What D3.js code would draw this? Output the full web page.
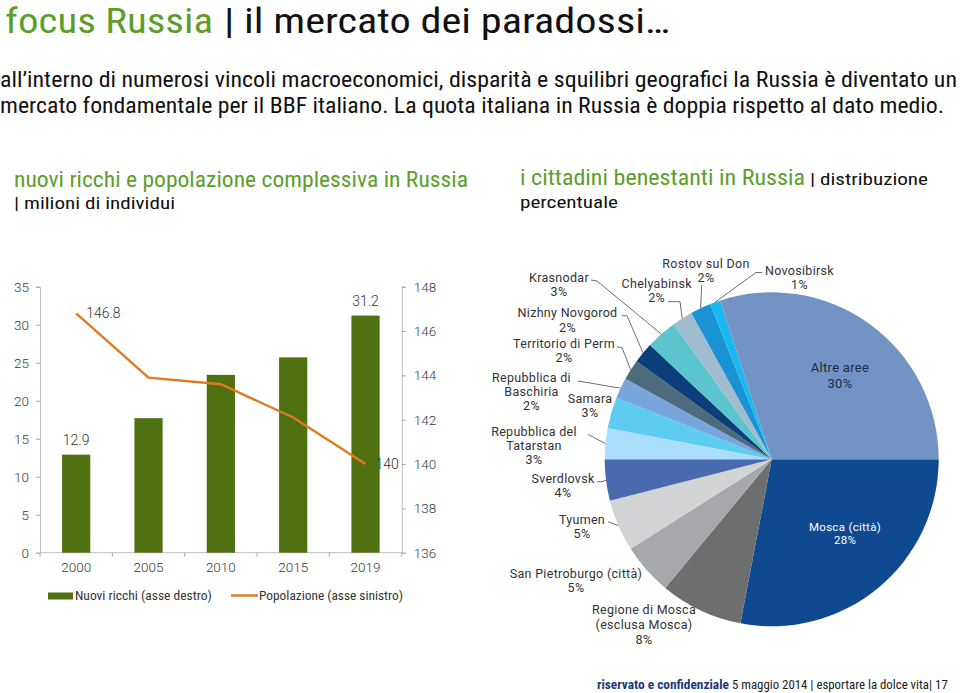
<!DOCTYPE html>
<html>
<head>
<meta charset="utf-8">
<script src="https://cdn.jsdelivr.net/npm/d3@7/dist/d3.min.js"></script>
<style>
  html, body { margin: 0; padding: 0; background: #fff; }
  svg { display: block; }
  .din { font-family: "Roboto", "DejaVu Sans", sans-serif; }
</style>
</head>
<body>
<svg id="chart" width="960" height="693"></svg>
<script>
// ---------------- DATA ----------------
const years = ["2000", "2005", "2010", "2015", "2019"];
const nuoviRicchi = [12.9, 17.7, 23.4, 25.7, 31.2];      // bars, left axis (milioni)
const popolazione = [146.8, 143.9, 143.6, 142.1, 140.0]; // line, right axis (milioni)
const leftTicks = [0, 5, 10, 15, 20, 25, 30, 35];
const rightTicks = [136, 138, 140, 142, 144, 146, 148];
const barLabels = ["12.9", "", "", "", "31.2"];
const lineLabels = ["146.8", "", "", "", "140"];

const regions = [
  "Mosca (città)", "Regione di Mosca\n(esclusa Mosca)", "San Pietroburgo (città)", "Tyumen",
  "Sverdlovsk", "Repubblica del\nTatarstan", "Samara", "Repubblica di\nBaschiria",
  "Territorio di Perm", "Nizhny Novgorod", "Krasnodar", "Chelyabinsk",
  "Rostov sul Don", "Novosibirsk", "Altre aree"
];
const shares = [28, 8, 5, 5, 4, 3, 3, 2, 2, 2, 3, 2, 2, 1, 30];

// ---------------- STYLES / LAYOUT ----------------
const sliceColors = [
  "#0f4990", "#6d6e70", "#a6a8ab", "#d2d3d5",
  "#4a6ab0", "#abdefa", "#5ecbf0", "#78a6dc",
  "#4d6b7c", "#0a3f7a", "#5bc5cf", "#a0bccf",
  "#1a93d4", "#1bb8ef", "#7393c5"
];
const labelLayout = [
  { x: 845, y: 531, lh: 13.2, fill: "#ffffff", size: 11.5 },
  { x: 644, y: 614, lh: 15.2 },
  { x: 576, y: 578, lh: 14 },
  { x: 582, y: 524, lh: 14, lead: [[608, 521.7]] },
  { x: 563, y: 483, lh: 14, lead: [[597, 481.7], [602, 481.7]] },
  { x: 534, y: 436, lh: 14, lead: [[588, 434.3]] },
  { x: 590, y: 403, lh: 14 },
  { x: 531.5, y: 381.5, lh: 14, lead: [[578, 381]] },
  { x: 564, y: 348, lh: 14, lead: [[617, 346.7], [622, 347.7]] },
  { x: 567.5, y: 317, lh: 14.6, lead: [[622, 315.7], [627, 315.7]] },
  { x: 559, y: 282, lh: 14, lead: [[591, 280], [597, 281]] },
  { x: 656.7, y: 288, lh: 14.4, lead: [[668, 301.7], [680, 301.7]] },
  { x: 706, y: 267.5, lh: 14, lead: [[701.7, 285]] },
  { x: 799.5, y: 275, lh: 14, lead: [[762, 272.5], [756, 272.5]] },
  { x: 840, y: 372, lh: 15.6, fill: "#1c2b3f", size: 13 }
];

const svg = d3.select("#chart");

// ---------- pick an installed condensed sans font for the headings ----------
const probe = "mercato fondamentale per il BBF italiano";
function measureText(family, stretch) {
  const t = svg.append("text").style("font-family", family).style("font-stretch", stretch || "normal")
    .style("font-size", "100px").text(probe);
  const w = t.node().getComputedTextLength();
  const bb = t.node().getBBox();
  t.remove();
  return { w, a: -bb.y / 100, d: (bb.height + bb.y) / 100 };
}
const monoW = measureText("monospace").w;
const candidates = [
  ["Roboto Condensed", "normal"],
  ["Roboto", "condensed"],
  ["Liberation Sans Narrow", "normal"],
  ["Open Sans", "condensed"],
  ["Noto Sans", "condensed"],
  ["DejaVu Sans", "condensed"]
];
let chosen = null;
for (const [fam, st] of candidates) {
  const m = measureText(`"${fam}", monospace`, st);
  if (Math.abs(m.w - monoW) < 0.5) continue;            // family not installed
  const normal = measureText(`"${fam}", monospace`, "normal").w;
  if (st !== "normal" && m.w > normal * 0.95) continue; // no condensed face
  chosen = { fam, st, ...m };
  break;
}
if (!chosen) chosen = { fam: "DejaVu Sans", st: "normal", ...measureText('"DejaVu Sans"', "normal") };
const narrowFamily = `"${chosen.fam}", sans-serif`;
const narrowStretch = chosen.st;
const asc = chosen.a, desc = chosen.d;

// text fitted to a width: font size at most maxSize, width forced to target
function fitted(x, y, str, maxSize, target, color, opts = {}) {
  const t = svg.append("text").attr("x", x).attr("y", y)
    .style("font-family", narrowFamily).style("font-stretch", narrowStretch)
    .style("font-size", "100px").style("font-weight", opts.weight || "normal")
    .attr("fill", color).text(str);
  const nat100 = t.node().getComputedTextLength();
  let fs = Math.min(maxSize, 100 * target / nat100);
  if (opts.minSize) fs = Math.max(fs, opts.minSize);
  t.style("font-size", fs + "px");
  const nat = t.node().getComputedTextLength();
  if (Math.abs(nat - target) > 0.8) t.attr("textLength", target).attr("lengthAdjust", "spacingAndGlyphs");
  return fs;
}

// ---------------- HEADER ----------------
const titleMax = Math.min(38, 32 / asc);
fitted(5, 33, "focus Russia", titleMax, 208, "#5c9e2c", { minSize: titleMax });
fitted(224, 33, "| il mercato dei paradossi…", titleMax, 446, "#111", { minSize: titleMax });
const subMax = Math.min(24, 25.5 / (asc + desc));
fitted(0, 87, "all’interno di numerosi vincoli macroeconomici, disparità e squilibri geografici  la Russia è diventato un", subMax, 957, "#111");
fitted(0, 113, "mercato fondamentale per il BBF italiano. La quota italiana in Russia è doppia rispetto al dato medio.", subMax, 944, "#111");

const secMax = 22;
const fsA = fitted(14, 187, "nuovi ricchi e popolazione complessiva in Russia", secMax, 454, "#5c9e2c", { minSize: secMax });
const sec2Max = Math.min(17, (22 - desc * fsA) / asc);
fitted(14, 209, "| milioni di individui", sec2Max, 161, "#111", { minSize: sec2Max });
const fsB = fitted(520, 185, "i cittadini benestanti in Russia", secMax, 285, "#5c9e2c", { minSize: secMax });
fitted(810, 185, "| distribuzione", 17, 118, "#111", { minSize: 17 });
const sec3Max = Math.min(17, (22.5 - desc * Math.max(fsB, 17)) / asc);
fitted(520, 207.5, "percentuale", sec3Max, 98, "#111", { minSize: sec3Max });

// ---------------- BAR + LINE CHART ----------------
const plot = { left: 40, right: 401.7, top: 286.7, bottom: 552.7 };
const x = d3.scaleBand().domain(years).range([plot.left, plot.right]).paddingInner(0.61).paddingOuter(0.305);
const yL = d3.scaleLinear().domain([0, 35]).range([plot.bottom, plot.top]);
const yR = d3.scaleLinear().domain([136, 148]).range([plot.bottom, plot.top]);
const axisColor = "#bdbdbd";

const gL = svg.append("g").attr("transform", `translate(${plot.left},0)`)
  .call(d3.axisLeft(yL).tickValues(leftTicks).tickSize(4).tickPadding(7));
const gR = svg.append("g").attr("transform", `translate(${plot.right},0)`)
  .call(d3.axisRight(yR).tickValues(rightTicks).tickSize(4).tickPadding(8));
const gB = svg.append("g").attr("transform", `translate(0,${plot.bottom})`)
  .call(d3.axisBottom(x).tickSize(0).tickPadding(10));
[gL, gR, gB].forEach(g => {
  g.selectAll(".domain").attr("stroke", axisColor);
  g.selectAll(".tick line").attr("stroke", "#a8a8a8");
  g.selectAll(".tick text").attr("class", "din").attr("fill", "#3a3a3a")
    .style("font-size", "13.5px").style("font-weight", 300);
});
gB.selectAll(".domain").remove();
svg.append("line").attr("x1", plot.left).attr("x2", plot.right)
  .attr("y1", plot.bottom).attr("y2", plot.bottom).attr("stroke", axisColor);
const step = x.step();
const boundaries = years.map(y => x(y) - step * x.paddingInner() / 2).concat([plot.right]);
svg.append("g").selectAll("line").data(boundaries).join("line")
  .attr("x1", d => d).attr("x2", d => d)
  .attr("y1", plot.bottom).attr("y2", plot.bottom + 4).attr("stroke", "#a8a8a8");

const green = "#4f7112";
svg.append("g").selectAll("rect").data(nuoviRicchi).join("rect")
  .attr("x", (d, i) => x(years[i]))
  .attr("width", x.bandwidth())
  .attr("y", d => yL(d))
  .attr("height", d => yL(0) - yL(d))
  .attr("fill", green);

const orange = "#e07a1f";
const lineGen = d3.line().x((d, i) => x(years[i]) + x.bandwidth() / 2).y(d => yR(d));
svg.append("path").datum(popolazione).attr("d", lineGen)
  .attr("fill", "none").attr("stroke", orange).attr("stroke-width", 2.4);

svg.append("g").selectAll("text").data(nuoviRicchi).join("text")
  .attr("class", "din").style("font-size", "14px").style("font-weight", 300).attr("fill", "#333")
  .attr("text-anchor", "middle")
  .attr("x", (d, i) => x(years[i]) + x.bandwidth() / 2)
  .attr("y", d => yL(d) - 10)
  .text((d, i) => barLabels[i]);
svg.append("g").selectAll("text").data(popolazione).join("text")
  .attr("class", "din").style("font-size", "14px").style("font-weight", 300).attr("fill", "#333")
  .attr("x", (d, i) => x(years[i]) + x.bandwidth() / 2 + 10)
  .attr("y", d => yR(d) + 5)
  .text((d, i) => lineLabels[i]);

// legend
svg.append("rect").attr("x", 48).attr("y", 592.5).attr("width", 25).attr("height", 7).attr("fill", green);
fitted(75, 600, "Nuovi ricchi (asse destro)", 15, 137, "#333");
svg.append("line").attr("x1", 231).attr("x2", 258).attr("y1", 595.5).attr("y2", 595.5)
  .attr("stroke", orange).attr("stroke-width", 2.4);
fitted(259, 600, "Popolazione (asse sinistro)", 15, 144, "#333");

// ---------------- PIE ----------------
const cx = 771.7, cy = 459.3, r = 167;
const pie = d3.pie().sort(null).value(d => d).startAngle(Math.PI / 2).endAngle(Math.PI / 2 + 2 * Math.PI);
const arcs = pie(shares);
const arc = d3.arc().innerRadius(0).outerRadius(r);
const gP = svg.append("g").attr("transform", `translate(${cx},${cy})`);
gP.selectAll("path").data(arcs).join("path")
  .attr("d", arc).attr("fill", (d, i) => sliceColors[i]);

arcs.forEach((a, i) => {
  const L = labelLayout[i];
  if (!L.lead) return;
  const mid = (a.startAngle + a.endAngle) / 2;
  const edge = [cx + r * Math.sin(mid), cy - r * Math.cos(mid)];
  svg.append("path").attr("d", d3.line()(L.lead.concat([edge])))
    .attr("fill", "none").attr("stroke", "#6f6f6f").attr("stroke-width", 1);
});

arcs.forEach((a, i) => {
  const L = labelLayout[i];
  const lines = regions[i].split("\n").concat([shares[i] + "%"]);
  const t = svg.append("text").attr("class", "din")
    .attr("text-anchor", "middle")
    .style("font-size", (L.size || 12.5) + "px")
    .style("letter-spacing", "0.3px")
    .attr("fill", L.fill || "#333");
  lines.forEach((ln, k) => {
    t.append("tspan").attr("x", L.x).attr("y", L.y + k * L.lh).text(ln);
  });
});

// ---------------- FOOTER ----------------
fitted(597, 689, "riservato e confidenziale", 14, 132, "#1c3a7a", { weight: "bold" });
fitted(732, 689, "5 maggio 2014 | esportare la dolce vita| 17", 14, 216, "#222");
</script>
</body>
</html>
